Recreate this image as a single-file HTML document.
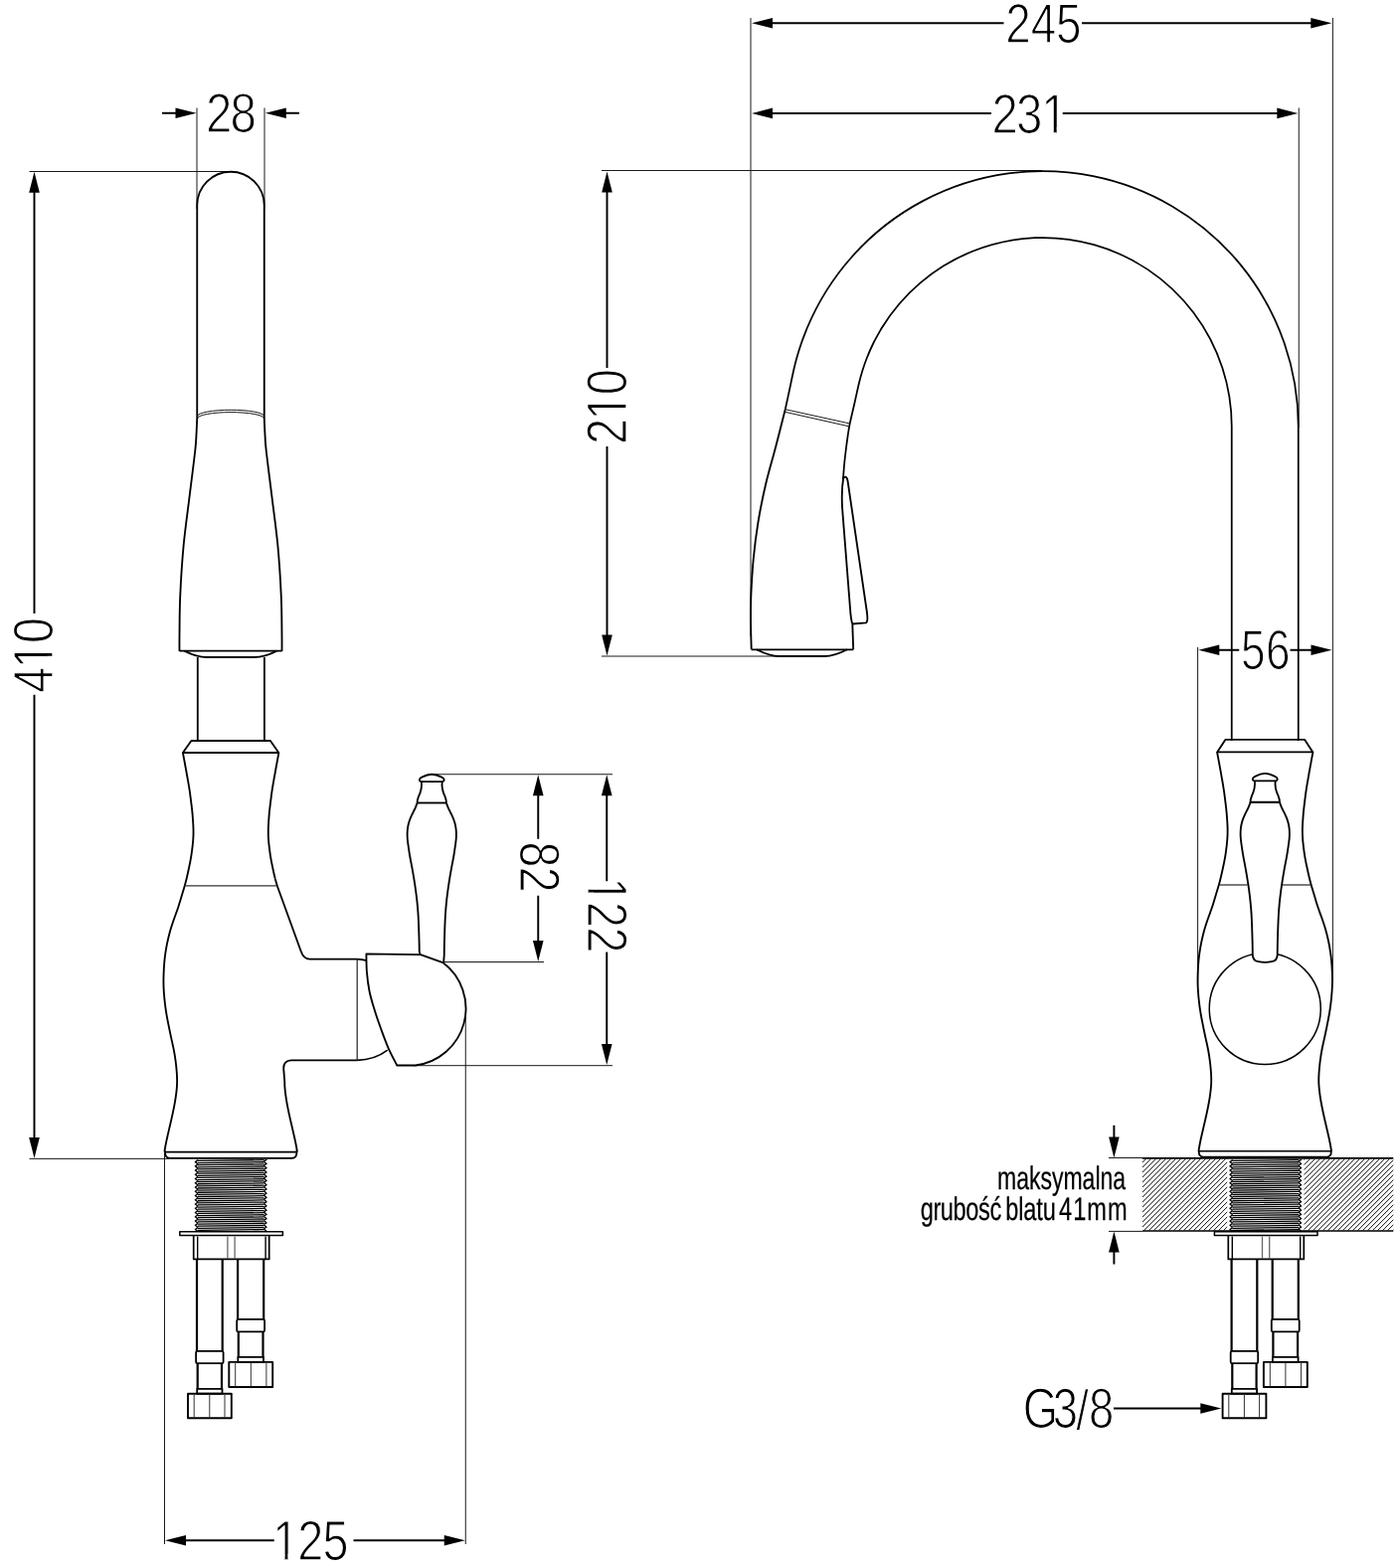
<!DOCTYPE html>
<html lang="pl">
<head>
<meta charset="utf-8">
<style>
html,body{margin:0;padding:0;background:#fff}
body{width:1407px;height:1577px;overflow:hidden}
svg{display:block;will-change:transform}
svg text{font-family:"Liberation Sans",sans-serif;fill:#000;text-rendering:geometricPrecision;paint-order:fill stroke;stroke-linejoin:round}
svg path{stroke-linecap:butt;stroke-linejoin:round}
</style>
</head>
<body>
<svg width="1407" height="1577" viewBox="0 0 1407 1577">
<rect width="1407" height="1577" fill="#fff"/>
<path d="M198,108.5L198,210" fill="none" stroke="#1a1a1a" stroke-width="1.0" />
<path d="M266,108.5L266,210" fill="none" stroke="#1a1a1a" stroke-width="1.0" />
<path d="M29.5,172.5L236,172.5" fill="none" stroke="#1a1a1a" stroke-width="1.0" />
<path d="M29.5,1165.4L170,1165.4" fill="none" stroke="#1a1a1a" stroke-width="1.0" />
<path d="M165.5,1159L165.5,1553" fill="none" stroke="#1a1a1a" stroke-width="1.0" />
<path d="M468.25,1015L468.25,1553" fill="none" stroke="#1a1a1a" stroke-width="1.0" />
<path d="M434,778.75L616,778.75" fill="none" stroke="#1a1a1a" stroke-width="1.0" />
<path d="M445.5,967.5L547,967.5" fill="none" stroke="#1a1a1a" stroke-width="1.0" />
<path d="M415,1071.7L616,1071.7" fill="none" stroke="#1a1a1a" stroke-width="1.0" />
<path d="M755,18L755,640" fill="none" stroke="#1a1a1a" stroke-width="1.0" />
<path d="M1340.4,18L1340.4,988" fill="none" stroke="#1a1a1a" stroke-width="1.0" />
<path d="M1306.25,108.5L1306.25,430" fill="none" stroke="#1a1a1a" stroke-width="1.0" />
<path d="M605,171.5L1048,171.5" fill="none" stroke="#1a1a1a" stroke-width="1.0" />
<path d="M605,660L784,660" fill="none" stroke="#1a1a1a" stroke-width="1.0" />
<path d="M1204.6,651L1204.6,988" fill="none" stroke="#1a1a1a" stroke-width="1.0" />
<path d="M1115,1164.5L1149,1164.5" fill="none" stroke="#1a1a1a" stroke-width="1.0" />
<path d="M1115,1238.4L1149,1238.4" fill="none" stroke="#1a1a1a" stroke-width="1.0" />
<path d="M163,113.75L178,113.75" fill="none" stroke="#000" stroke-width="1.95" />
<path d="M197.5,113.75L176.5,119.05L176.5,108.45Z" fill="#000"/>
<path d="M287,113.75L301,113.75" fill="none" stroke="#000" stroke-width="1.95" />
<path d="M266.8,113.75L287.8,108.45L287.8,119.05Z" fill="#000"/>
<path d="M34.5,172.8L39.8,193.8L29.2,193.8Z" fill="#000"/>
<path d="M34.5,192L34.5,617" fill="none" stroke="#000" stroke-width="1.95" />
<path d="M34.5,698.75L34.5,1146" fill="none" stroke="#000" stroke-width="1.95" />
<path d="M34.5,1165L29.2,1144L39.8,1144Z" fill="#000"/>
<path d="M166,1549.25L187,1543.95L187,1554.55Z" fill="#000"/>
<path d="M186,1549.25L275.75,1549.25" fill="none" stroke="#000" stroke-width="1.95" />
<path d="M355.5,1549.25L448,1549.25" fill="none" stroke="#000" stroke-width="1.95" />
<path d="M467.75,1549.25L446.75,1554.55L446.75,1543.95Z" fill="#000"/>
<path d="M541.25,779.3L546.55,800.3L535.95,800.3Z" fill="#000"/>
<path d="M541.25,799L541.25,843.75" fill="none" stroke="#000" stroke-width="1.95" />
<path d="M541.25,900.75L541.25,948" fill="none" stroke="#000" stroke-width="1.95" />
<path d="M541.25,967L535.95,946L546.55,946Z" fill="#000"/>
<path d="M610.25,779.3L615.55,800.3L604.95,800.3Z" fill="#000"/>
<path d="M610.25,799L610.25,886.25" fill="none" stroke="#000" stroke-width="1.95" />
<path d="M610.25,957.5L610.25,1052" fill="none" stroke="#000" stroke-width="1.95" />
<path d="M610.25,1071L604.95,1050L615.55,1050Z" fill="#000"/>
<path d="M756,23.25L777,17.95L777,28.55Z" fill="#000"/>
<path d="M776,23.25L1009.5,23.25" fill="none" stroke="#000" stroke-width="1.95" />
<path d="M1088,23.25L1319,23.25" fill="none" stroke="#000" stroke-width="1.95" />
<path d="M1339.3,23.25L1318.3,28.55L1318.3,17.95Z" fill="#000"/>
<path d="M756,113.9L777,108.6L777,119.2Z" fill="#000"/>
<path d="M776,113.9L997,113.9" fill="none" stroke="#000" stroke-width="1.95" />
<path d="M1068.75,113.9L1285.5,113.9" fill="none" stroke="#000" stroke-width="1.95" />
<path d="M1305.3,113.9L1284.3,119.2L1284.3,108.6Z" fill="#000"/>
<path d="M610.5,172.5L615.8,193.5L605.2,193.5Z" fill="#000"/>
<path d="M610.5,192L610.5,370" fill="none" stroke="#000" stroke-width="1.95" />
<path d="M610.5,449L610.5,640" fill="none" stroke="#000" stroke-width="1.95" />
<path d="M610.5,659.5L605.2,638.5L615.8,638.5Z" fill="#000"/>
<path d="M1205.3,653.75L1226.3,648.45L1226.3,659.05Z" fill="#000"/>
<path d="M1225,653.75L1246.25,653.75" fill="none" stroke="#000" stroke-width="1.95" />
<path d="M1297.5,653.75L1319.5,653.75" fill="none" stroke="#000" stroke-width="1.95" />
<path d="M1339.5,653.75L1318.5,659.05L1318.5,648.45Z" fill="#000"/>
<path d="M1120.4,1131.75L1120.4,1145" fill="none" stroke="#000" stroke-width="1.95" />
<path d="M1120.4,1164.5L1115.1,1143.5L1125.7,1143.5Z" fill="#000"/>
<path d="M1120.4,1258L1120.4,1271.5" fill="none" stroke="#000" stroke-width="1.95" />
<path d="M1120.4,1238.5L1125.7,1259.5L1115.1,1259.5Z" fill="#000"/>
<path d="M1120,1416.5L1208.5,1416.5" fill="none" stroke="#000" stroke-width="1.95" />
<path d="M1228.3,1416.5L1207.3,1421.8L1207.3,1411.2Z" fill="#000"/>
<path d="M198.25,420 L198.25,206.5 A33.75,33.75 0 0 1 265.75,206.5 L265.75,420" fill="none" stroke="#000" stroke-width="1.85" />
<path d="M198.6,418.6 A33.5,6.3 0 0 1 265.6,418.6" fill="none" stroke="#1a1a1a" stroke-width="1.0" />
<path d="M198.6,420.9 A33.5,6.3 0 0 1 265.6,420.9" fill="none" stroke="#1a1a1a" stroke-width="1.0" />
<path d="M198.25,420C198.142,422.5 197.925,429.5 197.6,435C197.275,440.5 197.483,442.167 196.3,453C195.117,463.833 192.467,483.833 190.5,500C188.533,516.167 186.05,533.333 184.5,550C182.95,566.667 181.867,585 181.2,600C180.533,615 180.617,630.833 180.5,640C180.383,649.167 180.5,652.5 180.5,655" fill="none" stroke="#000" stroke-width="1.85" />
<path d="M265.75,420C265.858,422.5 266.075,429.5 266.4,435C266.725,440.5 266.517,442.167 267.7,453C268.883,463.833 271.533,483.833 273.5,500C275.467,516.167 277.95,533.333 279.5,550C281.05,566.667 282.133,585 282.8,600C283.467,615 283.383,630.833 283.5,640C283.617,649.167 283.5,652.5 283.5,655" fill="none" stroke="#000" stroke-width="1.85" />
<path d="M180.5,654.6L283.5,654.6" fill="none" stroke="#000" stroke-width="1.85" />
<path d="M185.4,654.6 C193,658.5 200,661 208,661 L255.5,661 C263,661 271,658.5 278.4,654.6" fill="none" stroke="#000" stroke-width="1.85" />
<path d="M198.8,661L198.8,745" fill="none" stroke="#000" stroke-width="1.85" />
<path d="M265.9,661L265.9,745" fill="none" stroke="#000" stroke-width="1.85" />
<path d="M192.4,745 L271.9,745 L280.3,757 L183.9,757 Z" fill="none" stroke="#000" stroke-width="1.85" />
<path d="M183.9,756.97C184.071,757.887 184.586,760.636 184.928,762.469C185.271,764.302 185.616,766.135 185.955,767.968C186.294,769.801 186.633,771.634 186.964,773.467C187.295,775.3 187.618,777.133 187.942,778.966C188.265,780.799 188.585,782.632 188.905,784.465C189.225,786.298 189.556,788.131 189.862,789.964C190.169,791.797 190.472,793.63 190.744,795.463C191.015,797.296 191.253,799.129 191.492,800.962C191.731,802.795 191.949,804.628 192.176,806.461C192.403,808.294 192.643,810.127 192.855,811.96C193.068,813.793 193.278,815.626 193.451,817.459C193.624,819.292 193.76,821.125 193.894,822.958C194.028,824.792 194.157,826.625 194.256,828.458C194.356,830.291 194.452,832.124 194.491,833.957C194.53,835.79 194.531,837.623 194.488,839.456C194.444,841.289 194.359,843.122 194.227,844.955C194.095,846.788 193.896,848.621 193.696,850.454C193.496,852.287 193.27,854.12 193.028,855.953C192.786,857.786 192.542,859.619 192.245,861.452C191.949,863.285 191.603,865.118 191.249,866.951C190.894,868.784 190.504,870.617 190.118,872.45C189.731,874.283 189.338,876.116 188.93,877.949C188.522,879.782 188.113,881.615 187.669,883.448C187.225,885.281 186.764,887.114 186.267,888.947C185.771,890.78 185.234,892.613 184.692,894.446C184.15,896.279 183.568,898.112 183.013,899.945C182.459,901.778 181.919,903.611 181.367,905.444C180.816,907.277 180.292,909.11 179.704,910.943C179.115,912.776 178.477,914.609 177.835,916.442C177.193,918.275 176.508,920.108 175.852,921.941C175.197,923.774 174.53,925.607 173.903,927.44C173.276,929.273 172.655,931.106 172.091,932.939C171.526,934.772 171.007,936.605 170.518,938.438C170.028,940.271 169.579,942.104 169.153,943.937C168.727,945.77 168.331,947.603 167.964,949.436C167.597,951.269 167.259,953.102 166.951,954.935C166.643,956.768 166.364,958.602 166.117,960.435C165.869,962.268 165.652,964.101 165.468,965.934C165.284,967.767 165.14,969.6 165.014,971.433C164.887,973.266 164.794,975.099 164.709,976.932C164.625,978.765 164.549,980.598 164.506,982.431C164.463,984.264 164.437,986.097 164.451,987.93C164.466,989.763 164.517,991.596 164.594,993.429C164.671,995.262 164.781,997.095 164.912,998.928C165.042,1000.761 165.2,1002.594 165.378,1004.427C165.557,1006.26 165.76,1008.093 165.983,1009.926C166.205,1011.759 166.447,1013.592 166.713,1015.425C166.98,1017.258 167.267,1019.091 167.581,1020.924C167.895,1022.757 168.246,1024.59 168.598,1026.423C168.951,1028.256 169.33,1030.089 169.698,1031.922C170.066,1033.755 170.431,1035.588 170.809,1037.421C171.186,1039.254 171.563,1041.087 171.96,1042.92C172.357,1044.753 172.785,1046.586 173.189,1048.419C173.594,1050.252 174.013,1052.085 174.386,1053.918C174.759,1055.751 175.109,1057.584 175.428,1059.417C175.747,1061.25 176.04,1063.083 176.301,1064.916C176.563,1066.749 176.789,1068.582 176.997,1070.415C177.205,1072.248 177.391,1074.081 177.55,1075.914C177.71,1077.747 177.857,1079.58 177.951,1081.413C178.046,1083.246 178.117,1085.079 178.116,1086.912C178.115,1088.745 178.057,1090.578 177.945,1092.412C177.834,1094.245 177.649,1096.078 177.446,1097.911C177.244,1099.744 176.998,1101.577 176.73,1103.41C176.463,1105.243 176.16,1107.076 175.84,1108.909C175.52,1110.742 175.171,1112.575 174.81,1114.408C174.449,1116.241 174.066,1118.074 173.674,1119.907C173.282,1121.74 172.872,1123.573 172.457,1125.406C172.043,1127.239 171.614,1129.072 171.188,1130.905C170.762,1132.738 170.327,1134.571 169.902,1136.404C169.477,1138.237 169.051,1140.07 168.637,1141.903C168.223,1143.736 167.803,1145.569 167.418,1147.402C167.033,1149.235 166.664,1151.068 166.328,1152.901C165.992,1154.734 165.555,1157.483 165.4,1158.4" fill="none" stroke="#000" stroke-width="1.85" />
<path d="M280.4,756.97C280.229,757.887 279.714,760.636 279.372,762.469C279.029,764.302 278.684,766.135 278.345,767.968C278.006,769.801 277.667,771.634 277.336,773.467C277.005,775.3 276.682,777.133 276.358,778.966C276.035,780.799 275.715,782.632 275.395,784.465C275.075,786.298 274.744,788.131 274.438,789.964C274.131,791.797 273.828,793.63 273.556,795.463C273.285,797.296 273.047,799.129 272.808,800.962C272.569,802.795 272.351,804.628 272.124,806.461C271.897,808.294 271.657,810.127 271.445,811.96C271.232,813.793 271.022,815.626 270.849,817.459C270.676,819.292 270.54,821.125 270.406,822.958C270.272,824.792 270.143,826.625 270.044,828.458C269.944,830.291 269.848,832.124 269.809,833.957C269.77,835.79 269.769,837.623 269.812,839.456C269.856,841.289 269.941,843.122 270.073,844.955C270.205,846.788 270.404,848.621 270.604,850.454C270.804,852.287 271.03,854.12 271.272,855.953C271.514,857.786 271.758,859.619 272.055,861.452C272.351,863.285 272.697,865.118 273.051,866.951C273.406,868.784 273.796,870.617 274.182,872.45C274.569,874.283 274.962,876.116 275.37,877.949C275.778,879.782 276.421,882.531 276.631,883.448" fill="none" stroke="#000" stroke-width="1.85" />
<path d="M276.631,883.448 L279,891.5 L302.6,956.5 Q305.4,964.6 311.5,964.6 L359.2,964.6" fill="none" stroke="#000" stroke-width="1.85" />
<path d="M186.3,890.8L278.6,890.8" fill="none" stroke="#333" stroke-width="1.3" />
<path d="M359.2,1066.4 L293,1066.4 Q285,1066.6 285.2,1074.5C285.364,1076.569 285.991,1083.927 286.184,1086.912C286.376,1089.898 286.243,1090.578 286.355,1092.412C286.466,1094.245 286.651,1096.078 286.854,1097.911C287.056,1099.744 287.302,1101.577 287.57,1103.41C287.837,1105.243 288.14,1107.076 288.46,1108.909C288.78,1110.742 289.129,1112.575 289.49,1114.408C289.851,1116.241 290.234,1118.074 290.626,1119.907C291.018,1121.74 291.428,1123.573 291.843,1125.406C292.257,1127.239 292.686,1129.072 293.112,1130.905C293.538,1132.738 293.973,1134.571 294.398,1136.404C294.823,1138.237 295.249,1140.07 295.663,1141.903C296.077,1143.736 296.497,1145.569 296.882,1147.402C297.267,1149.235 297.636,1151.068 297.972,1152.901C298.308,1154.734 298.745,1157.483 298.9,1158.4" fill="none" stroke="#000" stroke-width="1.85" />
<path d="M166,1158.6L298.5,1158.6" fill="none" stroke="#000" stroke-width="1.6" />
<path d="M166.1,1157.5 Q165.6,1164.9 170.8,1164.9 L293.7,1164.9 Q298.9,1164.9 298.4,1157.5" fill="none" stroke="#000" stroke-width="1.85" />
<path d="M359.2,964.6L359.2,1066.4" fill="none" stroke="#222" stroke-width="1.2" />
<path d="M359.2,964.6 Q364,964.8 369,966.2" fill="none" stroke="#000" stroke-width="1.85" />
<path d="M359.2,1066.4 Q377,1066 389.7,1056.2" fill="none" stroke="#000" stroke-width="1.7" />
<path d="M399.3,1071.5C397.9,1068.733 393.55,1060.9 390.9,1054.9C388.25,1048.9 385.833,1042.217 383.4,1035.5C380.967,1028.783 378.283,1021.067 376.3,1014.6C374.317,1008.133 372.733,1002.917 371.5,996.7C370.267,990.483 369.417,983.517 368.9,977.3C368.383,971.083 368.483,962.383 368.4,959.4 L423,960.2 L445.4,968.1 A57.66,57.66 0 0 1 417.8,1071.5 Z" fill="#fff" stroke="#000" stroke-width="1.85" />
<path d="M419.55,807.6C419.303,808.272 418.628,810.288 418.07,811.632C417.512,812.975 416.847,814.319 416.202,815.663C415.556,817.007 414.826,818.351 414.198,819.695C413.569,821.039 412.949,822.382 412.428,823.726C411.907,825.07 411.444,826.414 411.071,827.758C410.699,829.102 410.414,830.446 410.191,831.789C409.967,833.133 409.827,834.477 409.73,835.821C409.633,837.165 409.597,838.509 409.609,839.853C409.621,841.196 409.694,842.54 409.801,843.884C409.908,845.228 410.081,846.572 410.25,847.916C410.42,849.26 410.626,850.604 410.819,851.947C411.011,853.291 411.203,854.635 411.405,855.979C411.607,857.323 411.807,858.667 412.031,860.011C412.255,861.354 412.499,862.698 412.75,864.042C413.002,865.386 413.278,866.73 413.538,868.074C413.799,869.418 414.065,870.761 414.314,872.105C414.563,873.449 414.8,874.793 415.035,876.137C415.27,877.481 415.498,878.825 415.724,880.168C415.95,881.512 416.174,882.856 416.391,884.2C416.609,885.544 416.82,886.888 417.028,888.232C417.235,889.575 417.44,890.919 417.636,892.263C417.832,893.607 418.021,894.951 418.203,896.295C418.386,897.639 418.562,898.982 418.73,900.326C418.898,901.67 419.063,903.014 419.213,904.358C419.362,905.702 419.497,907.046 419.627,908.389C419.758,909.733 419.88,911.077 419.997,912.421C420.114,913.765 420.228,915.109 420.328,916.453C420.428,917.796 420.515,919.14 420.596,920.484C420.677,921.828 420.748,923.172 420.813,924.516C420.879,925.86 420.935,927.204 420.989,928.547C421.043,929.891 421.089,931.235 421.136,932.579C421.183,933.923 421.227,935.267 421.271,936.611C421.314,937.954 421.357,939.298 421.398,940.642C421.438,941.986 421.477,943.33 421.513,944.674C421.548,946.018 421.581,947.361 421.611,948.705C421.642,950.049 421.671,951.393 421.696,952.737C421.721,954.081 421.642,955.641 421.759,956.768C421.876,957.896 422.293,959.045 422.4,959.5" fill="none" stroke="#000" stroke-width="1.85" />
<path d="M448.95,807.6C449.197,808.272 449.872,810.288 450.43,811.632C450.988,812.975 451.653,814.319 452.298,815.663C452.944,817.007 453.674,818.351 454.302,819.695C454.931,821.039 455.551,822.382 456.072,823.726C456.593,825.07 457.056,826.414 457.429,827.758C457.801,829.102 458.086,830.446 458.309,831.789C458.533,833.133 458.673,834.477 458.77,835.821C458.867,837.165 458.903,838.509 458.891,839.853C458.879,841.196 458.806,842.54 458.699,843.884C458.592,845.228 458.419,846.572 458.25,847.916C458.08,849.26 457.874,850.604 457.681,851.947C457.489,853.291 457.297,854.635 457.095,855.979C456.893,857.323 456.693,858.667 456.469,860.011C456.245,861.354 456.001,862.698 455.75,864.042C455.498,865.386 455.222,866.73 454.962,868.074C454.701,869.418 454.435,870.761 454.186,872.105C453.937,873.449 453.7,874.793 453.465,876.137C453.23,877.481 453.002,878.825 452.776,880.168C452.55,881.512 452.326,882.856 452.109,884.2C451.891,885.544 451.68,886.888 451.472,888.232C451.265,889.575 451.06,890.919 450.864,892.263C450.668,893.607 450.479,894.951 450.297,896.295C450.114,897.639 449.938,898.982 449.77,900.326C449.602,901.67 449.437,903.014 449.287,904.358C449.138,905.702 449.003,907.046 448.873,908.389C448.742,909.733 448.62,911.077 448.503,912.421C448.386,913.765 448.272,915.109 448.172,916.453C448.072,917.796 447.985,919.14 447.904,920.484C447.823,921.828 447.752,923.172 447.687,924.516C447.621,925.86 447.565,927.204 447.511,928.547C447.457,929.891 447.411,931.235 447.364,932.579C447.317,933.923 447.273,935.267 447.229,936.611C447.186,937.954 447.143,939.298 447.102,940.642C447.062,941.986 447.023,943.33 446.987,944.674C446.952,946.018 446.919,947.361 446.889,948.705C446.858,950.049 446.829,951.393 446.804,952.737C446.779,954.081 446.758,955.425 446.741,956.768C446.724,958.112 446.79,959.095 446.7,960.8C446.61,962.505 446.283,965.967 446.2,967" fill="none" stroke="#000" stroke-width="1.85" />
<path d="M419.55,807.5L448.95,807.5" fill="none" stroke="#000" stroke-width="1.85" />
<path d="M423.85,786.1 C424.65,793.1 422.95,797.1 420.95,801.1 C419.95,803.6 419.55,805.1 419.55,807.5" fill="none" stroke="#000" stroke-width="1.85" />
<path d="M444.65,786.1 C443.85,793.1 445.55,797.1 447.55,801.1 C448.55,803.6 448.95,805.1 448.95,807.5" fill="none" stroke="#000" stroke-width="1.85" />
<path d="M423.45,786.1 C420.75,785.6 421.75,782.6 424.25,781.6 C428.25,779.6 431.25,778.7 434.25,778.7 C437.25,778.7 440.25,779.6 444.25,781.6 C446.75,782.6 447.75,785.6 445.05,786.1 Z" fill="none" stroke="#000" stroke-width="1.85" />
<clipPath id="tc0"><rect x="195" y="1165.9" width="74.4" height="72.3"/></clipPath>
<g clip-path="url(#tc0)">
<path d="M198.8,1167.45L265.6,1166.65M198.8,1169.57L265.6,1168.77M198.8,1171.69L265.6,1170.89M198.8,1173.81L265.6,1173.01M198.8,1175.93L265.6,1175.13M198.8,1178.05L265.6,1177.25M198.8,1180.17L265.6,1179.37M198.8,1182.29L265.6,1181.49M198.8,1184.41L265.6,1183.61M198.8,1186.53L265.6,1185.73M198.8,1188.65L265.6,1187.85M198.8,1190.77L265.6,1189.97M198.8,1192.89L265.6,1192.09M198.8,1195.01L265.6,1194.21M198.8,1197.13L265.6,1196.33M198.8,1199.25L265.6,1198.45M198.8,1201.37L265.6,1200.57M198.8,1203.49L265.6,1202.69M198.8,1205.61L265.6,1204.81M198.8,1207.73L265.6,1206.93M198.8,1209.85L265.6,1209.05M198.8,1211.97L265.6,1211.17M198.8,1214.09L265.6,1213.29M198.8,1216.21L265.6,1215.41M198.8,1218.33L265.6,1217.53M198.8,1220.45L265.6,1219.65M198.8,1222.57L265.6,1221.77M198.8,1224.69L265.6,1223.89M198.8,1226.81L265.6,1226.01M198.8,1228.93L265.6,1228.13M198.8,1231.05L265.6,1230.25M198.8,1233.17L265.6,1232.37M198.8,1235.29L265.6,1234.49M198.8,1237.41L265.6,1236.61" fill="none" stroke="#000" stroke-width="1.3" />
<path d="M199.1,1162.36L196.4,1164.38L199.1,1166.6M199.1,1166.6L196.4,1168.62L199.1,1170.84M199.1,1170.84L196.4,1172.86L199.1,1175.08M199.1,1175.08L196.4,1177.1L199.1,1179.32M199.1,1179.32L196.4,1181.34L199.1,1183.56M199.1,1183.56L196.4,1185.58L199.1,1187.8M199.1,1187.8L196.4,1189.82L199.1,1192.04M199.1,1192.04L196.4,1194.06L199.1,1196.28M199.1,1196.28L196.4,1198.3L199.1,1200.52M199.1,1200.52L196.4,1202.54L199.1,1204.76M199.1,1204.76L196.4,1206.78L199.1,1209M199.1,1209L196.4,1211.02L199.1,1213.24M199.1,1213.24L196.4,1215.26L199.1,1217.48M199.1,1217.48L196.4,1219.5L199.1,1221.72M199.1,1221.72L196.4,1223.74L199.1,1225.96M199.1,1225.96L196.4,1227.98L199.1,1230.2M199.1,1230.2L196.4,1232.22L199.1,1234.44M199.1,1234.44L196.4,1236.46L199.1,1238.68M199.1,1238.68L196.4,1240.7L199.1,1242.92" fill="none" stroke="#000" stroke-width="1.35" stroke-linejoin="miter"/>
<path d="M265.3,1163.68L268,1166.3L265.3,1167.92M265.3,1167.92L268,1170.54L265.3,1172.16M265.3,1172.16L268,1174.78L265.3,1176.4M265.3,1176.4L268,1179.02L265.3,1180.64M265.3,1180.64L268,1183.26L265.3,1184.88M265.3,1184.88L268,1187.5L265.3,1189.12M265.3,1189.12L268,1191.74L265.3,1193.36M265.3,1193.36L268,1195.98L265.3,1197.6M265.3,1197.6L268,1200.22L265.3,1201.84M265.3,1201.84L268,1204.46L265.3,1206.08M265.3,1206.08L268,1208.7L265.3,1210.32M265.3,1210.32L268,1212.94L265.3,1214.56M265.3,1214.56L268,1217.18L265.3,1218.8M265.3,1218.8L268,1221.42L265.3,1223.04M265.3,1223.04L268,1225.66L265.3,1227.28M265.3,1227.28L268,1229.9L265.3,1231.52M265.3,1231.52L268,1234.14L265.3,1235.76M265.3,1235.76L268,1238.38L265.3,1240M265.3,1240L268,1242.62L265.3,1244.24" fill="none" stroke="#000" stroke-width="1.35" stroke-linejoin="miter"/>
</g>
<path d="M180.8,1238.8 H284.4 V1242.6 H180.8 Z" fill="#fff" stroke="#000" stroke-width="1.5" />
<path d="M194.7,1243 V1266.4 H270.7 V1243" fill="none" stroke="#000" stroke-width="1.7" />
<path d="M198.7,1243.5L198.7,1266" fill="none" stroke="#000" stroke-width="1.4" />
<path d="M267.1,1243.5L267.1,1266" fill="none" stroke="#000" stroke-width="1.4" />
<path d="M228.9,1243.5L228.9,1266" fill="none" stroke="#666" stroke-width="1.3" />
<path d="M236.1,1243.5L236.1,1266" fill="none" stroke="#666" stroke-width="1.3" />
<path d="M198,1266.4L198,1358.8" fill="none" stroke="#000" stroke-width="2.2" />
<path d="M223.7,1266.4L223.7,1358.8" fill="none" stroke="#000" stroke-width="2.2" />
<rect x="197.1" y="1358.8" width="27.5" height="12.4" rx="1.5" fill="#fff" stroke="#000" stroke-width="1.8"/>
<path d="M198.7,1371.2L198.7,1396.9" fill="none" stroke="#000" stroke-width="2.2" />
<path d="M223,1371.2L223,1396.9" fill="none" stroke="#000" stroke-width="2.2" />
<path d="M198.2,1396.9 H223.5 V1401.7 H198.2 Z" fill="none" stroke="#000" stroke-width="1.8" />
<path d="M189,1401.7 H232.8 V1426.3 H189 Z" fill="none" stroke="#000" stroke-width="1.9" />
<path d="M195.2,1402.2L195.2,1425.8" fill="none" stroke="#333" stroke-width="1.0" />
<path d="M210.8,1402.2L210.8,1425.8" fill="none" stroke="#333" stroke-width="1.0" />
<path d="M226,1402.2L226,1425.8" fill="none" stroke="#333" stroke-width="1.0" />
<path d="M239.1,1266.4L239.1,1326.9" fill="none" stroke="#000" stroke-width="2.2" />
<path d="M265.2,1266.4L265.2,1326.9" fill="none" stroke="#000" stroke-width="2.2" />
<rect x="238.2" y="1326.9" width="27.9" height="12.5" rx="1.5" fill="#fff" stroke="#000" stroke-width="1.8"/>
<path d="M239.8,1339.4L239.8,1364.9" fill="none" stroke="#000" stroke-width="2.2" />
<path d="M264.5,1339.4L264.5,1364.9" fill="none" stroke="#000" stroke-width="2.2" />
<path d="M239.3,1364.9 H265 V1369.9 H239.3 Z" fill="none" stroke="#000" stroke-width="1.8" />
<path d="M230.3,1369.9 H274.2 V1395 H230.3 Z" fill="none" stroke="#000" stroke-width="1.9" />
<path d="M236.7,1370.4L236.7,1394.5" fill="none" stroke="#333" stroke-width="1.0" />
<path d="M252.3,1370.4L252.3,1394.5" fill="none" stroke="#333" stroke-width="1.0" />
<path d="M267.9,1370.4L267.9,1394.5" fill="none" stroke="#333" stroke-width="1.0" />
<path d="M1238.75,745 L1238.75,429 A189.95,189.95 0 0 0 886.689,330C885.313,332.5 880.91,340 878.433,345C875.955,350 873.682,355.333 871.825,360C869.969,364.667 868.594,368.833 867.292,373C865.991,377.167 865.348,379.5 864.016,385C862.684,390.5 860.886,399 859.3,406C857.714,413 855.65,421.333 854.5,427C853.35,432.667 853.017,435.833 852.4,440C851.783,444.167 851.317,447.833 850.8,452C850.283,456.167 849.717,460.833 849.3,465C848.883,469.167 848.533,474.167 848.3,477C848.067,479.833 847.967,481.167 847.9,482" fill="none" stroke="#000" stroke-width="1.75" />
<path d="M1305.75,745 L1305.75,429 A256.95,256.95 0 0 0 811.688,330C810.734,332.5 807.701,340 805.968,345C804.235,350 802.574,355.5 801.288,360C800.002,364.5 799.467,366.667 798.252,372C797.037,377.333 795.409,385.417 794,392C792.591,398.583 790.5,408.25 789.8,411.5" fill="none" stroke="#000" stroke-width="1.75" />
<path d="M789.8,411.5C788.167,417.917 783.3,437.333 780,450C776.7,462.667 772.917,475 770,487.5C767.083,500 764.55,512.5 762.5,525C760.45,537.5 758.9,550 757.7,562.5C756.5,575 755.75,589.583 755.3,600C754.85,610.417 754.933,616.133 755,625C755.067,633.867 755.583,648.5 755.7,653.2" fill="none" stroke="#000" stroke-width="1.85" />
<path d="M755.7,653.3L858.2,653.3" fill="none" stroke="#000" stroke-width="1.85" />
<path d="M761,653.3 C768,657 775,660 784,660 L829,660 C838,660 845,657 852,653.3" fill="none" stroke="#000" stroke-width="1.85" />
<path d="M789.6,411.7L854.3,425.9" fill="none" stroke="#1a1a1a" stroke-width="1.0" />
<path d="M789,414.2L853.8,428.8" fill="none" stroke="#1a1a1a" stroke-width="1.0" />
<path d="M848.3,480 C846.5,490 846.5,500 847,510 L855,612 C855.5,620 856,624 857.3,627.5 L858.2,653.3" fill="none" stroke="#000" stroke-width="1.85" />
<path d="M848.5,480.5 C850.5,478.5 852,480 852.6,484 L871.8,615 C872.8,622 872.8,625.5 871,626.3 L857.3,627.5" fill="none" stroke="#000" stroke-width="1.85" />
<path d="M1232.5,743.8 L1312,743.8 L1320.2,756.3 L1224.3,756.3 Z" fill="none" stroke="#000" stroke-width="1.85" />
<path d="M1224,756.07C1224.171,756.987 1224.686,759.736 1225.028,761.569C1225.371,763.402 1225.716,765.235 1226.055,767.068C1226.394,768.901 1226.733,770.734 1227.064,772.567C1227.395,774.4 1227.718,776.233 1228.042,778.066C1228.365,779.899 1228.685,781.732 1229.005,783.565C1229.325,785.398 1229.656,787.231 1229.962,789.064C1230.269,790.897 1230.572,792.73 1230.844,794.563C1231.115,796.396 1231.353,798.229 1231.592,800.062C1231.831,801.895 1232.049,803.728 1232.276,805.561C1232.503,807.394 1232.743,809.227 1232.955,811.06C1233.168,812.893 1233.378,814.726 1233.551,816.559C1233.724,818.392 1233.86,820.225 1233.994,822.058C1234.128,823.892 1234.257,825.725 1234.356,827.558C1234.456,829.391 1234.552,831.224 1234.591,833.057C1234.63,834.89 1234.631,836.723 1234.588,838.556C1234.544,840.389 1234.459,842.222 1234.327,844.055C1234.195,845.888 1233.996,847.721 1233.796,849.554C1233.596,851.387 1233.37,853.22 1233.128,855.053C1232.886,856.886 1232.642,858.719 1232.345,860.552C1232.049,862.385 1231.703,864.218 1231.349,866.051C1230.994,867.884 1230.604,869.717 1230.218,871.55C1229.831,873.383 1229.438,875.216 1229.03,877.049C1228.622,878.882 1228.213,880.715 1227.769,882.548C1227.325,884.381 1226.864,886.214 1226.367,888.047C1225.871,889.88 1225.334,891.713 1224.792,893.546C1224.25,895.379 1223.668,897.212 1223.113,899.045C1222.559,900.878 1222.019,902.711 1221.467,904.544C1220.916,906.377 1220.392,908.21 1219.804,910.043C1219.215,911.876 1218.577,913.709 1217.935,915.542C1217.293,917.375 1216.608,919.208 1215.952,921.041C1215.297,922.874 1214.63,924.707 1214.003,926.54C1213.376,928.373 1212.755,930.206 1212.191,932.039C1211.626,933.872 1211.107,935.705 1210.618,937.538C1210.128,939.371 1209.679,941.204 1209.253,943.037C1208.827,944.87 1208.431,946.703 1208.064,948.536C1207.697,950.369 1207.359,952.202 1207.051,954.035C1206.743,955.868 1206.464,957.702 1206.217,959.535C1205.969,961.368 1205.752,963.201 1205.568,965.034C1205.384,966.867 1205.24,968.7 1205.114,970.533C1204.987,972.366 1204.894,974.199 1204.809,976.032C1204.725,977.865 1204.649,979.698 1204.606,981.531C1204.563,983.364 1204.537,985.197 1204.551,987.03C1204.566,988.863 1204.617,990.696 1204.694,992.529C1204.771,994.362 1204.881,996.195 1205.012,998.028C1205.142,999.861 1205.3,1001.694 1205.478,1003.527C1205.657,1005.36 1205.86,1007.193 1206.083,1009.026C1206.305,1010.859 1206.547,1012.692 1206.813,1014.525C1207.08,1016.358 1207.367,1018.191 1207.681,1020.024C1207.995,1021.857 1208.346,1023.69 1208.698,1025.523C1209.051,1027.356 1209.43,1029.189 1209.798,1031.022C1210.166,1032.855 1210.531,1034.688 1210.909,1036.521C1211.286,1038.354 1211.663,1040.187 1212.06,1042.02C1212.457,1043.853 1212.885,1045.686 1213.289,1047.519C1213.694,1049.352 1214.113,1051.185 1214.486,1053.018C1214.859,1054.851 1215.209,1056.684 1215.528,1058.517C1215.847,1060.35 1216.14,1062.183 1216.401,1064.016C1216.663,1065.849 1216.889,1067.682 1217.097,1069.515C1217.305,1071.348 1217.491,1073.181 1217.65,1075.014C1217.81,1076.847 1217.957,1078.68 1218.051,1080.513C1218.146,1082.346 1218.217,1084.179 1218.216,1086.012C1218.215,1087.845 1218.157,1089.678 1218.045,1091.512C1217.934,1093.345 1217.749,1095.178 1217.546,1097.011C1217.344,1098.844 1217.098,1100.677 1216.83,1102.51C1216.563,1104.343 1216.26,1106.176 1215.94,1108.009C1215.62,1109.842 1215.271,1111.675 1214.91,1113.508C1214.549,1115.341 1214.166,1117.174 1213.774,1119.007C1213.382,1120.84 1212.972,1122.673 1212.557,1124.506C1212.143,1126.339 1211.714,1128.172 1211.288,1130.005C1210.862,1131.838 1210.427,1133.671 1210.002,1135.504C1209.577,1137.337 1209.151,1139.17 1208.737,1141.003C1208.323,1142.836 1207.903,1144.669 1207.518,1146.502C1207.133,1148.335 1206.764,1150.168 1206.428,1152.001C1206.092,1153.834 1205.655,1156.583 1205.5,1157.5" fill="none" stroke="#000" stroke-width="1.85" />
<path d="M1320.5,756.07C1320.329,756.987 1319.814,759.736 1319.472,761.569C1319.129,763.402 1318.784,765.235 1318.445,767.068C1318.106,768.901 1317.767,770.734 1317.436,772.567C1317.105,774.4 1316.782,776.233 1316.458,778.066C1316.135,779.899 1315.815,781.732 1315.495,783.565C1315.175,785.398 1314.844,787.231 1314.538,789.064C1314.231,790.897 1313.928,792.73 1313.656,794.563C1313.385,796.396 1313.147,798.229 1312.908,800.062C1312.669,801.895 1312.451,803.728 1312.224,805.561C1311.997,807.394 1311.757,809.227 1311.545,811.06C1311.332,812.893 1311.122,814.726 1310.949,816.559C1310.776,818.392 1310.64,820.225 1310.506,822.058C1310.372,823.892 1310.243,825.725 1310.144,827.558C1310.044,829.391 1309.948,831.224 1309.909,833.057C1309.87,834.89 1309.869,836.723 1309.912,838.556C1309.956,840.389 1310.041,842.222 1310.173,844.055C1310.305,845.888 1310.504,847.721 1310.704,849.554C1310.904,851.387 1311.13,853.22 1311.372,855.053C1311.614,856.886 1311.858,858.719 1312.155,860.552C1312.451,862.385 1312.797,864.218 1313.151,866.051C1313.506,867.884 1313.896,869.717 1314.282,871.55C1314.669,873.383 1315.062,875.216 1315.47,877.049C1315.878,878.882 1316.287,880.715 1316.731,882.548C1317.175,884.381 1317.636,886.214 1318.133,888.047C1318.629,889.88 1319.166,891.713 1319.708,893.546C1320.25,895.379 1320.832,897.212 1321.387,899.045C1321.941,900.878 1322.481,902.711 1323.033,904.544C1323.584,906.377 1324.108,908.21 1324.696,910.043C1325.285,911.876 1325.923,913.709 1326.565,915.542C1327.207,917.375 1327.892,919.208 1328.548,921.041C1329.203,922.874 1329.87,924.707 1330.497,926.54C1331.124,928.373 1331.745,930.206 1332.309,932.039C1332.874,933.872 1333.393,935.705 1333.882,937.538C1334.372,939.371 1334.821,941.204 1335.247,943.037C1335.673,944.87 1336.069,946.703 1336.436,948.536C1336.803,950.369 1337.141,952.202 1337.449,954.035C1337.757,955.868 1338.036,957.702 1338.283,959.535C1338.531,961.368 1338.748,963.201 1338.932,965.034C1339.116,966.867 1339.26,968.7 1339.386,970.533C1339.513,972.366 1339.606,974.199 1339.691,976.032C1339.775,977.865 1339.851,979.698 1339.894,981.531C1339.937,983.364 1339.963,985.197 1339.949,987.03C1339.934,988.863 1339.883,990.696 1339.806,992.529C1339.729,994.362 1339.619,996.195 1339.488,998.028C1339.358,999.861 1339.2,1001.694 1339.022,1003.527C1338.843,1005.36 1338.64,1007.193 1338.417,1009.026C1338.195,1010.859 1337.953,1012.692 1337.687,1014.525C1337.42,1016.358 1337.133,1018.191 1336.819,1020.024C1336.505,1021.857 1336.154,1023.69 1335.802,1025.523C1335.449,1027.356 1335.07,1029.189 1334.702,1031.022C1334.334,1032.855 1333.969,1034.688 1333.591,1036.521C1333.214,1038.354 1332.837,1040.187 1332.44,1042.02C1332.043,1043.853 1331.615,1045.686 1331.211,1047.519C1330.806,1049.352 1330.387,1051.185 1330.014,1053.018C1329.641,1054.851 1329.291,1056.684 1328.972,1058.517C1328.653,1060.35 1328.36,1062.183 1328.099,1064.016C1327.837,1065.849 1327.611,1067.682 1327.403,1069.515C1327.195,1071.348 1327.009,1073.181 1326.85,1075.014C1326.69,1076.847 1326.543,1078.68 1326.449,1080.513C1326.354,1082.346 1326.283,1084.179 1326.284,1086.012C1326.285,1087.845 1326.343,1089.678 1326.455,1091.512C1326.566,1093.345 1326.751,1095.178 1326.954,1097.011C1327.156,1098.844 1327.402,1100.677 1327.67,1102.51C1327.937,1104.343 1328.24,1106.176 1328.56,1108.009C1328.88,1109.842 1329.229,1111.675 1329.59,1113.508C1329.951,1115.341 1330.334,1117.174 1330.726,1119.007C1331.118,1120.84 1331.528,1122.673 1331.943,1124.506C1332.357,1126.339 1332.786,1128.172 1333.212,1130.005C1333.638,1131.838 1334.073,1133.671 1334.498,1135.504C1334.923,1137.337 1335.349,1139.17 1335.763,1141.003C1336.177,1142.836 1336.597,1144.669 1336.982,1146.502C1337.367,1148.335 1337.736,1150.168 1338.072,1152.001C1338.408,1153.834 1338.845,1156.583 1339,1157.5" fill="none" stroke="#000" stroke-width="1.85" />
<path d="M1226.2,890L1254.5,890" fill="none" stroke="#333" stroke-width="1.3" />
<path d="M1290,890L1318.3,890" fill="none" stroke="#333" stroke-width="1.3" />
<path d="M1205.7,1157.7L1338.8,1157.7" fill="none" stroke="#000" stroke-width="1.6" />
<path d="M1205.7,1157 Q1205.3,1163.6 1210.4,1163.6 L1334.1,1163.6 Q1339.2,1163.6 1338.8,1157" fill="none" stroke="#000" stroke-width="1.85" />
<circle cx="1272.25" cy="1014.5" r="56" fill="none" stroke="#000" stroke-width="1.5"/>
<path d="M1257.55,806.8C1257.303,807.472 1256.628,809.488 1256.07,810.832C1255.512,812.175 1254.847,813.519 1254.202,814.863C1253.556,816.207 1252.826,817.551 1252.198,818.895C1251.569,820.239 1250.949,821.582 1250.428,822.926C1249.907,824.27 1249.444,825.614 1249.071,826.958C1248.699,828.302 1248.414,829.646 1248.191,830.989C1247.967,832.333 1247.827,833.677 1247.73,835.021C1247.633,836.365 1247.597,837.709 1247.609,839.053C1247.621,840.396 1247.694,841.74 1247.801,843.084C1247.908,844.428 1248.081,845.772 1248.25,847.116C1248.42,848.46 1248.626,849.804 1248.819,851.147C1249.011,852.491 1249.203,853.835 1249.405,855.179C1249.607,856.523 1249.807,857.867 1250.031,859.211C1250.255,860.554 1250.499,861.898 1250.75,863.242C1251.002,864.586 1251.278,865.93 1251.538,867.274C1251.799,868.618 1252.065,869.961 1252.314,871.305C1252.563,872.649 1252.8,873.993 1253.035,875.337C1253.27,876.681 1253.498,878.025 1253.724,879.368C1253.95,880.712 1254.174,882.056 1254.391,883.4C1254.609,884.744 1254.82,886.088 1255.028,887.432C1255.235,888.775 1255.44,890.119 1255.636,891.463C1255.832,892.807 1256.021,894.151 1256.203,895.495C1256.386,896.839 1256.562,898.182 1256.73,899.526C1256.898,900.87 1257.063,902.214 1257.213,903.558C1257.362,904.902 1257.497,906.246 1257.627,907.589C1257.758,908.933 1257.88,910.277 1257.997,911.621C1258.114,912.965 1258.228,914.309 1258.328,915.653C1258.428,916.996 1258.515,918.34 1258.596,919.684C1258.677,921.028 1258.748,922.372 1258.813,923.716C1258.879,925.06 1258.935,926.404 1258.989,927.747C1259.043,929.091 1259.089,930.435 1259.136,931.779C1259.183,933.123 1259.227,934.467 1259.271,935.811C1259.314,937.154 1259.357,938.498 1259.398,939.842C1259.438,941.186 1259.477,942.53 1259.513,943.874C1259.548,945.218 1259.581,946.561 1259.611,947.905C1259.642,949.249 1259.671,950.593 1259.696,951.937C1259.721,953.281 1259.742,954.625 1259.759,955.968C1259.776,957.312 1259.793,959.328 1259.8,960 C1259.8,964.5 1261.3,966.6 1265.8,967.2 C1269.25,967.9 1275.25,967.9 1278.7,967.2 C1283.2,966.6 1284.7,964.5 1284.7,960C1284.707,959.328 1284.724,957.312 1284.741,955.968C1284.758,954.625 1284.779,953.281 1284.804,951.937C1284.829,950.593 1284.858,949.249 1284.889,947.905C1284.919,946.561 1284.952,945.218 1284.987,943.874C1285.023,942.53 1285.062,941.186 1285.102,939.842C1285.143,938.498 1285.186,937.154 1285.229,935.811C1285.273,934.467 1285.317,933.123 1285.364,931.779C1285.411,930.435 1285.457,929.091 1285.511,927.747C1285.565,926.404 1285.621,925.06 1285.687,923.716C1285.752,922.372 1285.823,921.028 1285.904,919.684C1285.985,918.34 1286.072,916.996 1286.172,915.653C1286.272,914.309 1286.386,912.965 1286.503,911.621C1286.62,910.277 1286.742,908.933 1286.873,907.589C1287.003,906.246 1287.138,904.902 1287.287,903.558C1287.437,902.214 1287.602,900.87 1287.77,899.526C1287.938,898.182 1288.114,896.839 1288.297,895.495C1288.479,894.151 1288.668,892.807 1288.864,891.463C1289.06,890.119 1289.265,888.775 1289.472,887.432C1289.68,886.088 1289.891,884.744 1290.109,883.4C1290.326,882.056 1290.55,880.712 1290.776,879.368C1291.002,878.025 1291.23,876.681 1291.465,875.337C1291.7,873.993 1291.937,872.649 1292.186,871.305C1292.435,869.961 1292.701,868.618 1292.962,867.274C1293.222,865.93 1293.498,864.586 1293.75,863.242C1294.001,861.898 1294.245,860.554 1294.469,859.211C1294.693,857.867 1294.893,856.523 1295.095,855.179C1295.297,853.835 1295.489,852.491 1295.681,851.147C1295.874,849.804 1296.08,848.46 1296.25,847.116C1296.419,845.772 1296.592,844.428 1296.699,843.084C1296.806,841.74 1296.879,840.396 1296.891,839.053C1296.903,837.709 1296.867,836.365 1296.77,835.021C1296.673,833.677 1296.533,832.333 1296.309,830.989C1296.086,829.646 1295.801,828.302 1295.429,826.958C1295.056,825.614 1294.593,824.27 1294.072,822.926C1293.551,821.582 1292.931,820.239 1292.302,818.895C1291.674,817.551 1290.944,816.207 1290.298,814.863C1289.653,813.519 1288.988,812.175 1288.43,810.832C1287.872,809.488 1287.197,807.472 1286.95,806.8Z" fill="#fff" stroke="#000" stroke-width="1.85" />
<path d="M1257.55,806.7L1286.95,806.7" fill="none" stroke="#000" stroke-width="1.85" />
<path d="M1261.85,785.3 C1262.65,792.3 1260.95,796.3 1258.95,800.3 C1257.95,802.8 1257.55,804.3 1257.55,806.7" fill="none" stroke="#000" stroke-width="1.85" />
<path d="M1282.65,785.3 C1281.85,792.3 1283.55,796.3 1285.55,800.3 C1286.55,802.8 1286.95,804.3 1286.95,806.7" fill="none" stroke="#000" stroke-width="1.85" />
<path d="M1261.45,785.3 C1258.75,784.8 1259.75,781.8 1262.25,780.8 C1266.25,778.8 1269.25,777.9 1272.25,777.9 C1275.25,777.9 1278.25,778.8 1282.25,780.8 C1284.75,781.8 1285.75,784.8 1283.05,785.3 Z" fill="none" stroke="#000" stroke-width="1.85" />
<clipPath id="hc"><path d="M1149,1165.5 H1234.2 V1237.5 H1149 Z M1311.5,1165.5 H1401.3 V1237.5 H1311.5 Z"/></clipPath>
<path d="M879.1,1239L954.1,1164M884.1,1239L959.1,1164M889.1,1239L964.1,1164M894.1,1239L969.1,1164M899.1,1239L974.1,1164M904.1,1239L979.1,1164M909.1,1239L984.1,1164M914.1,1239L989.1,1164M919.1,1239L994.1,1164M924.1,1239L999.1,1164M929.1,1239L1004.1,1164M934.1,1239L1009.1,1164M939.1,1239L1014.1,1164M944.1,1239L1019.1,1164M949.1,1239L1024.1,1164M954.1,1239L1029.1,1164M959.1,1239L1034.1,1164M964.1,1239L1039.1,1164M969.1,1239L1044.1,1164M974.1,1239L1049.1,1164M979.1,1239L1054.1,1164M984.1,1239L1059.1,1164M989.1,1239L1064.1,1164M994.1,1239L1069.1,1164M999.1,1239L1074.1,1164M1004.1,1239L1079.1,1164M1009.1,1239L1084.1,1164M1014.1,1239L1089.1,1164M1019.1,1239L1094.1,1164M1024.1,1239L1099.1,1164M1029.1,1239L1104.1,1164M1034.1,1239L1109.1,1164M1039.1,1239L1114.1,1164M1044.1,1239L1119.1,1164M1049.1,1239L1124.1,1164M1054.1,1239L1129.1,1164M1059.1,1239L1134.1,1164M1064.1,1239L1139.1,1164M1069.1,1239L1144.1,1164M1074.1,1239L1149.1,1164M1079.1,1239L1154.1,1164M1084.1,1239L1159.1,1164M1089.1,1239L1164.1,1164M1094.1,1239L1169.1,1164M1099.1,1239L1174.1,1164M1104.1,1239L1179.1,1164M1109.1,1239L1184.1,1164M1114.1,1239L1189.1,1164M1119.1,1239L1194.1,1164M1124.1,1239L1199.1,1164M1129.1,1239L1204.1,1164M1134.1,1239L1209.1,1164M1139.1,1239L1214.1,1164M1144.1,1239L1219.1,1164M1149.1,1239L1224.1,1164M1154.1,1239L1229.1,1164M1159.1,1239L1234.1,1164M1164.1,1239L1239.1,1164M1169.1,1239L1244.1,1164M1174.1,1239L1249.1,1164M1179.1,1239L1254.1,1164M1184.1,1239L1259.1,1164M1189.1,1239L1264.1,1164M1194.1,1239L1269.1,1164M1199.1,1239L1274.1,1164M1204.1,1239L1279.1,1164M1209.1,1239L1284.1,1164M1214.1,1239L1289.1,1164M1219.1,1239L1294.1,1164M1224.1,1239L1299.1,1164M1229.1,1239L1304.1,1164M1234.1,1239L1309.1,1164M1239.1,1239L1314.1,1164M1244.1,1239L1319.1,1164M1249.1,1239L1324.1,1164M1254.1,1239L1329.1,1164M1259.1,1239L1334.1,1164M1264.1,1239L1339.1,1164M1269.1,1239L1344.1,1164M1274.1,1239L1349.1,1164M1279.1,1239L1354.1,1164M1284.1,1239L1359.1,1164M1289.1,1239L1364.1,1164M1294.1,1239L1369.1,1164M1299.1,1239L1374.1,1164M1304.1,1239L1379.1,1164M1309.1,1239L1384.1,1164M1314.1,1239L1389.1,1164M1319.1,1239L1394.1,1164M1324.1,1239L1399.1,1164M1329.1,1239L1404.1,1164M1334.1,1239L1409.1,1164M1339.1,1239L1414.1,1164M1344.1,1239L1419.1,1164M1349.1,1239L1424.1,1164M1354.1,1239L1429.1,1164M1359.1,1239L1434.1,1164M1364.1,1239L1439.1,1164M1369.1,1239L1444.1,1164M1374.1,1239L1449.1,1164M1379.1,1239L1454.1,1164M1384.1,1239L1459.1,1164M1389.1,1239L1464.1,1164M1394.1,1239L1469.1,1164M1399.1,1239L1474.1,1164M1404.1,1239L1479.1,1164" fill="none" stroke="#161616" stroke-width="1.0" clip-path="url(#hc)"/>
<path d="M1149,1164.8L1401.3,1164.8" fill="none" stroke="#000" stroke-width="1.7" />
<path d="M1149,1238L1401.3,1238" fill="none" stroke="#000" stroke-width="1.7" />
<clipPath id="tc1040"><rect x="1235.6" y="1165.9" width="74.4" height="72.3"/></clipPath>
<g clip-path="url(#tc1040)">
<path d="M1239.4,1167.45L1306.2,1166.65M1239.4,1169.57L1306.2,1168.77M1239.4,1171.69L1306.2,1170.89M1239.4,1173.81L1306.2,1173.01M1239.4,1175.93L1306.2,1175.13M1239.4,1178.05L1306.2,1177.25M1239.4,1180.17L1306.2,1179.37M1239.4,1182.29L1306.2,1181.49M1239.4,1184.41L1306.2,1183.61M1239.4,1186.53L1306.2,1185.73M1239.4,1188.65L1306.2,1187.85M1239.4,1190.77L1306.2,1189.97M1239.4,1192.89L1306.2,1192.09M1239.4,1195.01L1306.2,1194.21M1239.4,1197.13L1306.2,1196.33M1239.4,1199.25L1306.2,1198.45M1239.4,1201.37L1306.2,1200.57M1239.4,1203.49L1306.2,1202.69M1239.4,1205.61L1306.2,1204.81M1239.4,1207.73L1306.2,1206.93M1239.4,1209.85L1306.2,1209.05M1239.4,1211.97L1306.2,1211.17M1239.4,1214.09L1306.2,1213.29M1239.4,1216.21L1306.2,1215.41M1239.4,1218.33L1306.2,1217.53M1239.4,1220.45L1306.2,1219.65M1239.4,1222.57L1306.2,1221.77M1239.4,1224.69L1306.2,1223.89M1239.4,1226.81L1306.2,1226.01M1239.4,1228.93L1306.2,1228.13M1239.4,1231.05L1306.2,1230.25M1239.4,1233.17L1306.2,1232.37M1239.4,1235.29L1306.2,1234.49M1239.4,1237.41L1306.2,1236.61" fill="none" stroke="#000" stroke-width="1.3" />
<path d="M1239.7,1162.36L1237,1164.38L1239.7,1166.6M1239.7,1166.6L1237,1168.62L1239.7,1170.84M1239.7,1170.84L1237,1172.86L1239.7,1175.08M1239.7,1175.08L1237,1177.1L1239.7,1179.32M1239.7,1179.32L1237,1181.34L1239.7,1183.56M1239.7,1183.56L1237,1185.58L1239.7,1187.8M1239.7,1187.8L1237,1189.82L1239.7,1192.04M1239.7,1192.04L1237,1194.06L1239.7,1196.28M1239.7,1196.28L1237,1198.3L1239.7,1200.52M1239.7,1200.52L1237,1202.54L1239.7,1204.76M1239.7,1204.76L1237,1206.78L1239.7,1209M1239.7,1209L1237,1211.02L1239.7,1213.24M1239.7,1213.24L1237,1215.26L1239.7,1217.48M1239.7,1217.48L1237,1219.5L1239.7,1221.72M1239.7,1221.72L1237,1223.74L1239.7,1225.96M1239.7,1225.96L1237,1227.98L1239.7,1230.2M1239.7,1230.2L1237,1232.22L1239.7,1234.44M1239.7,1234.44L1237,1236.46L1239.7,1238.68M1239.7,1238.68L1237,1240.7L1239.7,1242.92" fill="none" stroke="#000" stroke-width="1.35" stroke-linejoin="miter"/>
<path d="M1305.9,1163.68L1308.6,1166.3L1305.9,1167.92M1305.9,1167.92L1308.6,1170.54L1305.9,1172.16M1305.9,1172.16L1308.6,1174.78L1305.9,1176.4M1305.9,1176.4L1308.6,1179.02L1305.9,1180.64M1305.9,1180.64L1308.6,1183.26L1305.9,1184.88M1305.9,1184.88L1308.6,1187.5L1305.9,1189.12M1305.9,1189.12L1308.6,1191.74L1305.9,1193.36M1305.9,1193.36L1308.6,1195.98L1305.9,1197.6M1305.9,1197.6L1308.6,1200.22L1305.9,1201.84M1305.9,1201.84L1308.6,1204.46L1305.9,1206.08M1305.9,1206.08L1308.6,1208.7L1305.9,1210.32M1305.9,1210.32L1308.6,1212.94L1305.9,1214.56M1305.9,1214.56L1308.6,1217.18L1305.9,1218.8M1305.9,1218.8L1308.6,1221.42L1305.9,1223.04M1305.9,1223.04L1308.6,1225.66L1305.9,1227.28M1305.9,1227.28L1308.6,1229.9L1305.9,1231.52M1305.9,1231.52L1308.6,1234.14L1305.9,1235.76M1305.9,1235.76L1308.6,1238.38L1305.9,1240M1305.9,1240L1308.6,1242.62L1305.9,1244.24" fill="none" stroke="#000" stroke-width="1.35" stroke-linejoin="miter"/>
</g>
<path d="M1221.4,1238.8 H1325 V1242.6 H1221.4 Z" fill="#fff" stroke="#000" stroke-width="1.5" />
<path d="M1235.3,1243 V1266.4 H1311.3 V1243" fill="none" stroke="#000" stroke-width="1.7" />
<path d="M1239.3,1243.5L1239.3,1266" fill="none" stroke="#000" stroke-width="1.4" />
<path d="M1307.7,1243.5L1307.7,1266" fill="none" stroke="#000" stroke-width="1.4" />
<path d="M1269.5,1243.5L1269.5,1266" fill="none" stroke="#666" stroke-width="1.3" />
<path d="M1276.7,1243.5L1276.7,1266" fill="none" stroke="#666" stroke-width="1.3" />
<path d="M1238.6,1266.4L1238.6,1358.8" fill="none" stroke="#000" stroke-width="2.2" />
<path d="M1264.3,1266.4L1264.3,1358.8" fill="none" stroke="#000" stroke-width="2.2" />
<rect x="1237.7" y="1358.8" width="27.5" height="12.4" rx="1.5" fill="#fff" stroke="#000" stroke-width="1.8"/>
<path d="M1239.3,1371.2L1239.3,1396.9" fill="none" stroke="#000" stroke-width="2.2" />
<path d="M1263.6,1371.2L1263.6,1396.9" fill="none" stroke="#000" stroke-width="2.2" />
<path d="M1238.8,1396.9 H1264.1 V1401.7 H1238.8 Z" fill="none" stroke="#000" stroke-width="1.8" />
<path d="M1229.6,1401.7 H1273.4 V1426.3 H1229.6 Z" fill="none" stroke="#000" stroke-width="1.9" />
<path d="M1235.8,1402.2L1235.8,1425.8" fill="none" stroke="#333" stroke-width="1.0" />
<path d="M1251.4,1402.2L1251.4,1425.8" fill="none" stroke="#333" stroke-width="1.0" />
<path d="M1266.6,1402.2L1266.6,1425.8" fill="none" stroke="#333" stroke-width="1.0" />
<path d="M1279.7,1266.4L1279.7,1326.9" fill="none" stroke="#000" stroke-width="2.2" />
<path d="M1305.8,1266.4L1305.8,1326.9" fill="none" stroke="#000" stroke-width="2.2" />
<rect x="1278.8" y="1326.9" width="27.9" height="12.5" rx="1.5" fill="#fff" stroke="#000" stroke-width="1.8"/>
<path d="M1280.4,1339.4L1280.4,1364.9" fill="none" stroke="#000" stroke-width="2.2" />
<path d="M1305.1,1339.4L1305.1,1364.9" fill="none" stroke="#000" stroke-width="2.2" />
<path d="M1279.9,1364.9 H1305.6 V1369.9 H1279.9 Z" fill="none" stroke="#000" stroke-width="1.8" />
<path d="M1270.9,1369.9 H1314.8 V1395 H1270.9 Z" fill="none" stroke="#000" stroke-width="1.9" />
<path d="M1277.3,1370.4L1277.3,1394.5" fill="none" stroke="#333" stroke-width="1.0" />
<path d="M1292.9,1370.4L1292.9,1394.5" fill="none" stroke="#333" stroke-width="1.0" />
<path d="M1308.5,1370.4L1308.5,1394.5" fill="none" stroke="#333" stroke-width="1.0" />
<text transform="translate(209.95,132.901) scale(0.8392,0.9949)" x="-3.646 25.697" y="0" font-size="56.5" stroke="#fff" stroke-width="1.3" vector-effect="non-scaling-stroke">28</text>
<clipPath id="c1"><path d="M-200,-200H600V200H-200ZM-2.34,-6.013H9.618V6H-2.34ZM13.042,-6.013H24.558V6H13.042Z" clip-rule="evenodd"/></clipPath>
<text transform="translate(278.6,1568.895) scale(0.8281,1.0062)" x="-5.375 24.802 55.588" y="0" font-size="56.5" stroke="#fff" stroke-width="1.3" vector-effect="non-scaling-stroke" clip-path="url(#c1)">125</text>
<text transform="translate(1013.8,42.7) scale(0.8111,0.9974)" x="-3.013 28.357 59.424" y="0" font-size="56.5" stroke="#fff" stroke-width="1.3" vector-effect="non-scaling-stroke">245</text>
<clipPath id="c2"><path d="M-200,-200H600V200H-200ZM59.097,-6.024H71.045V6H59.097ZM74.488,-6.024H85.995V6H74.488Z" clip-rule="evenodd"/></clipPath>
<text transform="translate(1000.2,133.7) scale(0.8387,0.9974)" x="-3.251 26.007 56.062" y="0" font-size="56.5" stroke="#fff" stroke-width="1.3" vector-effect="non-scaling-stroke" clip-path="url(#c2)">231</text>
<text transform="translate(1250.4,673.298) scale(0.7813,0.9999)" x="-3.177 28.891" y="0" font-size="56.5" stroke="#fff" stroke-width="1.3" vector-effect="non-scaling-stroke">56</text>
<text transform="translate(1031.7,1435.893) scale(0.8047,1.0099)" x="-3.637 33.729 62.926 78.738" y="0" dy="0 0 2.2 -2.2" font-size="56.5" stroke="#fff" stroke-width="1.3" vector-effect="non-scaling-stroke">G3/8</text>
<clipPath id="c3"><path d="M-200,-200H600V200H-200ZM30.862,-6.017H42.824V6H30.862ZM46.24,-6.017H57.76V6H46.24Z" clip-rule="evenodd"/></clipPath>
<text transform="translate(53.367,695.1) rotate(-90) scale(0.8239,1.0027)" x="-1.938 27.827 58.389" y="0" font-size="56.5" stroke="#fff" stroke-width="1.3" vector-effect="non-scaling-stroke" clip-path="url(#c3)">410</text>
<clipPath id="c4"><path d="M-200,-200H600V200H-200ZM29.016,-6.005H40.97V6H29.016ZM44.403,-6.005H55.915V6H44.403Z" clip-rule="evenodd"/></clipPath>
<text transform="translate(630.041,444.1) rotate(-90) scale(0.8329,1.0124)" x="-3.465 25.982 56.386" y="0" font-size="56.5" stroke="#fff" stroke-width="1.3" vector-effect="non-scaling-stroke" clip-path="url(#c4)">210</text>
<text transform="translate(522.609,849.1) rotate(90) scale(0.8229,1.0124)" x="-3.256 27.609" y="0" font-size="56.5" stroke="#fff" stroke-width="1.3" vector-effect="non-scaling-stroke">82</text>
<clipPath id="c5"><path d="M-200,-200H600V200H-200ZM-2.431,-6.01H9.53V6H-2.431ZM12.947,-6.01H24.467V6H12.947Z" clip-rule="evenodd"/></clipPath>
<text transform="translate(590.75,886.9) rotate(90) scale(0.8246,1.0089)" x="-5.466 24.491 55.173" y="0" font-size="56.5" stroke="#fff" stroke-width="1.3" vector-effect="non-scaling-stroke" clip-path="url(#c5)">122</text>
<text transform="translate(1004.5,1196.4) scale(0.7145,1.0169)" x="-2.138 24.685 42.593 58.693 74.793 90.893 117.716 135.624 142.777 160.686" y="0" font-size="32.2" stroke="#000" stroke-width="0.25" vector-effect="non-scaling-stroke">maksymalna</text>
<text transform="translate(926.7,1226.6) scale(0.7325,1.0169)" x="-1.352 16.009 26.186 43.547 60.909 78.271 93.824 109.378 115.464 133.146 140.074 157.757 166.477 184.159 188.88 208.182 227.484 255.701" y="0" font-size="32.2" stroke="#000" stroke-width="0.25" vector-effect="non-scaling-stroke">grubość blatu 41mm</text>
</svg>
</body>
</html>
